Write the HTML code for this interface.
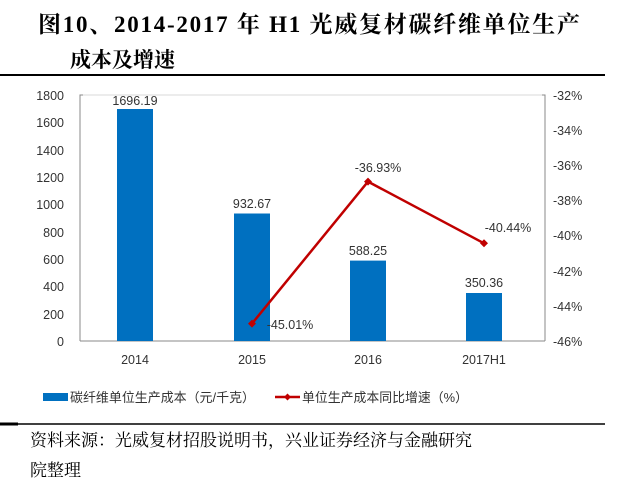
<!DOCTYPE html><html><head><meta charset="utf-8"><style>
body{margin:0;background:#fff;width:640px;height:486px;overflow:hidden;font-family:"Liberation Sans","Noto Sans CJK SC",sans-serif}
</style></head><body>
<svg width="640" height="486" xmlns="http://www.w3.org/2000/svg" font-family="Liberation Sans, Noto Sans CJK SC, sans-serif">
<text x="38" y="32" font-family="Liberation Serif, Noto Serif CJK SC, serif" font-weight="bold" font-size="23" textLength="542" lengthAdjust="spacing">图10、2014-2017 年 H1 光威复材碳纤维单位生产</text>
<text x="70" y="67" font-family="Liberation Serif, Noto Serif CJK SC, serif" font-weight="bold" font-size="21">成本及增速</text>
<line x1="0" y1="75" x2="605" y2="75" stroke="#000" stroke-width="2"/>
<line x1="80" y1="95" x2="545" y2="95" stroke="#d9d9d9"/>
<path d="M83 95H80V341M542 95H545V341" fill="none" stroke="#888"/>
<line x1="80" y1="341" x2="545" y2="341" stroke="#888"/>
<g font-size="12.5" fill="#333" text-anchor="end">
<text x="64" y="100">1800</text><text x="64" y="127">1600</text><text x="64" y="155">1400</text><text x="64" y="182">1200</text><text x="64" y="209">1000</text><text x="64" y="237">800</text><text x="64" y="264">600</text><text x="64" y="291">400</text><text x="64" y="319">200</text><text x="64" y="346">0</text>
</g>
<g font-size="12.5" fill="#333">
<text x="553" y="100">-32%</text><text x="553" y="135">-34%</text><text x="553" y="170">-36%</text><text x="553" y="205">-38%</text><text x="553" y="240">-40%</text><text x="553" y="276">-42%</text><text x="553" y="311">-44%</text><text x="553" y="346">-46%</text>
</g>
<g fill="#0070c0">
<rect x="117" y="109" width="36" height="232"/>
<rect x="234" y="213.5" width="36" height="127.5"/>
<rect x="350" y="260.6" width="36" height="80.4"/>
<rect x="466" y="293" width="36" height="48"/>
</g>
<g font-size="12.5" fill="#333" text-anchor="middle">
<text x="135" y="105">1696.19</text><text x="252" y="208">932.67</text><text x="368" y="255">588.25</text><text x="484" y="287">350.36</text>
<text x="135" y="364">2014</text><text x="252" y="364">2015</text><text x="368" y="364">2016</text><text x="484" y="364">2017H1</text>
<text x="290" y="329">-45.01%</text><text x="378" y="172">-36.93%</text><text x="508" y="232">-40.44%</text>
</g>
<polyline points="252,323.6 368,181.6 484,243.3" fill="none" stroke="#c00000" stroke-width="2.5"/>
<g fill="#c00000"><path d="M252 319.6l4 4-4 4-4-4z"/><path d="M368 177.6l4 4-4 4-4-4z"/><path d="M484 239.3l4 4-4 4-4-4z"/></g>
<rect x="43" y="393" width="25" height="8" fill="#0070c0"/>
<text x="70" y="402" font-size="13" fill="#333" textLength="185" lengthAdjust="spacingAndGlyphs">碳纤维单位生产成本（元/千克）</text>
<line x1="275" y1="397" x2="300" y2="397" stroke="#c00000" stroke-width="2.5"/>
<path d="M287.5 393.5l3.5 3.5-3.5 3.5-3.5-3.5z" fill="#c00000"/>
<text x="302" y="402" font-size="13" fill="#333" textLength="166" lengthAdjust="spacingAndGlyphs">单位生产成本同比增速（%）</text>
<line x1="0" y1="424" x2="605" y2="424" stroke="#000" stroke-width="1.5"/>
<line x1="0" y1="424" x2="18" y2="424" stroke="#000" stroke-width="3"/>
<text x="30" y="446" font-family="Liberation Serif, Noto Serif CJK SC, serif" font-size="17" textLength="442" lengthAdjust="spacing">资料来源：光威复材招股说明书，兴业证券经济与金融研究</text>
<text x="30" y="476" font-family="Liberation Serif, Noto Serif CJK SC, serif" font-size="17">院整理</text>
</svg>
</body></html>
